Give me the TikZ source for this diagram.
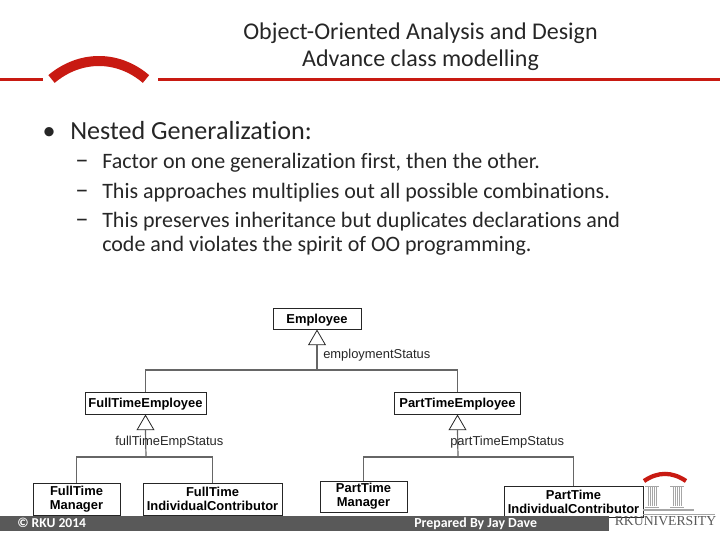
\documentclass[tikz,border=0pt]{standalone}
\usepackage{fontspec}
\setmainfont[Ligatures=CommonOff]{Carlito}
\setsansfont{Liberation Sans}
\newfontfamily\logofont{Liberation Serif}
\usetikzlibrary{shapes.geometric}
\definecolor{rkured}{HTML}{C81A12}
\definecolor{footgray}{HTML}{595959}
\definecolor{linegray}{HTML}{666666}
\tikzset{
  classbox/.style={draw=black!85,line width=0.75pt,fill=white,align=center,inner sep=0pt,
    font=\sffamily\bfseries\fontsize{9.7}{10.5}\selectfont},
  genlabel/.style={font=\sffamily\fontsize{9.7}{10}\selectfont,inner sep=0pt,text=black!85},
  gentri/.style={draw=black!85,line width=0.6pt,fill=white,regular polygon,regular polygon sides=3,
    inner sep=0pt,minimum size=14.5pt,anchor=north},
  genline/.style={draw=linegray,line width=0.9pt},
  slidetext/.style={anchor=base west,inner sep=0pt,text=black!85,font=\fontsize{#1}{#1}\selectfont},
  redrule/.style={draw=rkured,line width=2pt},
}
\begin{document}
\begin{tikzpicture}[x=0.75pt,y=-0.75pt]
    \useasboundingbox (0,0) rectangle (720,540);
    % header
    \node[align=center,inner sep=0pt,text=black!85,font=\fontsize{18}{20.4}\selectfont] (title) at (420.5,46.5)
      {Object-Oriented Analysis and Design\\Advance class modelling};
    \draw[redrule] (0,79.3) -- (43,79.3);
    \draw[redrule] (158,79.3) -- (720,79.3);
    \draw[rkured,line width=7.5pt] (51.5,79) .. controls (80,55) and (118,55) .. (146,79);

    % text
    \node[slidetext=19.6] (t1) at (70,139) {Nested Generalization:};
    \node[slidetext=19.6,anchor=base east] (b1) at (56,139) {•};
    \node[slidetext=16.5] (t2) at (102,168) {Factor on one generalization first, then the other.};
    \node[slidetext=16.5] (t3) at (102,198) {This approaches multiplies out all possible combinations.};
    \node[slidetext=16.5] (t4) at (102,227) {This preserves inheritance but duplicates declarations and};
    \node[slidetext=16.5] (t5) at (102,251) {code and violates the spirit of OO programming.};
    \foreach \y/\n in {168/d2,198/d3,227/d4}
      \node[slidetext=20] (\n) at (75,\y) {–};

    % classes
    \node[classbox,text depth=0pt,minimum width=66pt,minimum height=15.75pt] (emp) at (317,318.5) {Employee};
    \node[classbox,text depth=0pt,minimum width=90.75pt,minimum height=16.5pt] (fte) at (145.5,403) {FullTimeEmployee};
    \node[classbox,text depth=0pt,minimum width=95pt,minimum height=16.5pt] (pte) at (457.5,403) {PartTimeEmployee};
    \node[classbox,minimum width=65.25pt,minimum height=24pt] (ftm) at (76.5,499) {FullTime\\Manager};
    \node[classbox,minimum width=104.25pt,minimum height=24pt] (fic) at (212.5,499) {FullTime\\IndividualContributor};
    \node[classbox,minimum width=65.25pt,minimum height=23.25pt] (ptm) at (363.5,496.5) {PartTime\\Manager};
    \node[classbox,minimum width=104.25pt,minimum height=23.25pt] (pic) at (573.5,501.5) {PartTime\\IndividualContributor};

    % generalizations
    \node[gentri] (tria) at (emp.south) {};
    \node[gentri] (trib) at (fte.south) {};
    \node[gentri] (tric) at (pte.south) {};
    \coordinate (ja) at (317,370);
    \coordinate (jb) at (146,457);
    \coordinate (jc) at (458,457);
    \draw[genline] (tria.south) -- (ja);
    \draw[genline] (fte.north) |- (ja) -| (pte.north);
    \draw[genline] (trib.south) -- (jb);
    \draw[genline] (ftm.north) |- (jb) -| (fic.north);
    \draw[genline] (tric.south) -- (jc);
    \draw[genline] (ptm.north) |- (jc) -| (pic.north);
    \node[genlabel,anchor=base west] (lbla) at (323,358.5) {employmentStatus};
    \node[genlabel,anchor=base west] (lblb) at (115,445) {fullTimeEmpStatus};
    \node[genlabel,anchor=base west] (lblc) at (450,445) {partTimeEmpStatus};

    % footer
    \fill[footgray] (0,516) rectangle (609,531);
    \node[anchor=base west,inner sep=0pt,text=white,font=\bfseries\fontsize{10.2}{10}\selectfont] (copy) at (17,527) {© RKU 2014};
    \node[anchor=base west,inner sep=0pt,text=white,font=\bfseries\fontsize{10.4}{10}\selectfont] (prep) at (414,527) {Prepared By Jay Dave};

    % logo
    \draw[rkured,line width=3.2pt] (644,481) .. controls (658,471.5) and (672,471.5) .. (686,481);
    \foreach \x in {652,677}{
      \draw[gray!70,line width=0.6pt] (\x-7,486) -- (\x+7,486);
      \foreach \d in {-4,-2,0,2,4}
        \draw[gray!70,line width=0.5pt] (\x+\d,487) -- (\x+\d,506);
      \draw[gray!70,line width=0.6pt] (\x-7,507) -- (\x+7,507);
    }
    \draw[gray!70,line width=1pt] (643,510) -- (694,510);
    \draw[gray!70,line width=0.6pt] (643,514) -- (715,514);
    \node[anchor=base,inner sep=0pt,text=black!65,font=\logofont\fontsize{10.3}{10}\selectfont] (rku) at (665.5,525.5) {RKUNIVERSITY};
\end{tikzpicture}
\end{document}
